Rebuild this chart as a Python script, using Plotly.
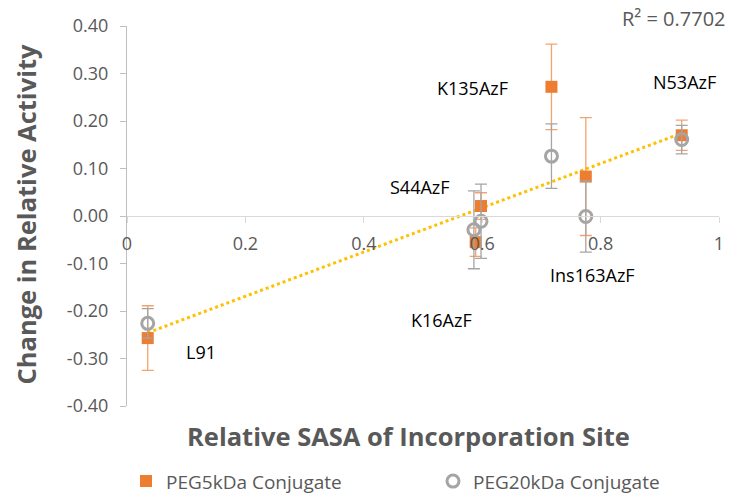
import numpy as np
import plotly.graph_objects as go

# ---- data ----
sites = ["L91", "K16AzF", "S44AzF", "K135AzF", "Ins163AzF", "N53AzF"]
sasa_5k = [0.035, 0.589, 0.598, 0.717, 0.775, 0.937]
act_5k = [-0.257, -0.055, 0.021, 0.272, 0.083, 0.170]
err_5k = [0.068, 0.030, 0.028, 0.090, 0.124, 0.032]

sasa_20k = [0.035, 0.586, 0.598, 0.717, 0.775, 0.937]
act_20k = [-0.226, -0.029, -0.011, 0.126, -0.001, 0.161]
err_20k = [0.031, 0.082, 0.078, 0.068, 0.075, 0.030]

# data-label anchor positions (x, y in data units)
label_x = [0.125, 0.532, 0.495, 0.583, 0.787, 0.941]
label_y = [-0.286, -0.219, 0.062, 0.269, -0.124, 0.282]

r2_text = "R² = 0.7702"
x_ticks = [0, 0.2, 0.4, 0.6, 0.8, 1]
y_ticks = [-0.4, -0.3, -0.2, -0.1, 0.0, 0.1, 0.2, 0.3, 0.4]

FONT = "Open Sans"
TXT = "#595959"
ORANGE = "#ED7D31"
GRAY = "#A5A5A5"

# trendline through all points
all_x = np.array(sasa_5k + sasa_20k)
all_y = np.array(act_5k + act_20k)
slope, intercept = np.polyfit(all_x, all_y, 1)
tx = np.array([all_x.min(), all_x.max()])
ty = slope * tx + intercept

fig = go.Figure()
fig.add_trace(go.Scatter(
    x=tx, y=ty, mode="lines", showlegend=False, hoverinfo="skip",
    line=dict(color="#FFC000", width=3, dash="dot")))
fig.add_trace(go.Scatter(
    x=sasa_5k, y=act_5k, mode="markers", name="PEG5kDa Conjugate",
    marker=dict(symbol="square", size=12, color=ORANGE),
    error_y=dict(type="data", array=err_5k, visible=True,
                 color="rgba(237,125,49,0.7)", thickness=1.3, width=6)))
fig.add_trace(go.Scatter(
    x=sasa_20k, y=act_20k, mode="markers", name="PEG20kDa Conjugate",
    marker=dict(symbol="circle-open", size=12, color=GRAY,
                line=dict(width=3, color=GRAY)),
    error_y=dict(type="data", array=err_20k, visible=True,
                 color=GRAY, thickness=1.3, width=6)))

annotations = []
for name, lx, ly in zip(sites, label_x, label_y):
    annotations.append(dict(x=lx, y=ly, xref="x", yref="y", text=name,
                            showarrow=False,
                            font=dict(family=FONT, size=18, color="#000000")))
annotations.append(dict(x=1.0152, y=1.021, xref="paper", yref="paper",
                        xanchor="right", yanchor="middle",
                        showarrow=False, text=r2_text,
                        font=dict(family=FONT, size=20, color=TXT)))
annotations.append(dict(x=0.475, y=-0.079, xref="paper", yref="paper",
                        xanchor="center", yanchor="middle",
                        text="<b>Relative SASA of Incorporation Site</b>",
                        showarrow=False,
                        font=dict(family=FONT, size=25.5, color=TXT)))
annotations.append(dict(x=-0.17, y=0.505, xref="paper", yref="paper",
                        xanchor="center", yanchor="middle", textangle=-90,
                        text="<b>Change in Relative Activity</b>",
                        showarrow=False,
                        font=dict(family=FONT, size=25.5, color=TXT)))

fig.update_layout(
    width=732, height=494,
    margin=dict(l=127, r=13, t=26, b=88, autoexpand=False),
    paper_bgcolor="white", plot_bgcolor="white",
    font=dict(family=FONT, color=TXT),
    showlegend=True,
    legend=dict(orientation="h", xref="paper", yref="paper",
                x=-0.0017, y=-0.198, xanchor="left", yanchor="middle",
                entrywidth=262, entrywidthmode="pixels",
                font=dict(family=FONT, size=19, color=TXT)),
    annotations=annotations,
    xaxis=dict(range=[0, 1], tickvals=x_ticks, ticktext=[f"{v:g}" for v in x_ticks],
               anchor="free", position=0.5,
               showline=True, linecolor="#D9D9D9", linewidth=1.3,
               ticks="outside", ticklen=6, tickcolor="#D9D9D9",
               ticklabelstandoff=5,
               showgrid=False, zeroline=False,
               tickfont=dict(family=FONT, size=18, color=TXT)),
    yaxis=dict(range=[-0.4, 0.4], tickvals=y_ticks,
               ticktext=[f"{v:.2f}" for v in y_ticks],
               showline=True, linecolor="#BFBFBF", linewidth=1.3,
               ticks="outside", ticklen=6, tickcolor="#BFBFBF",
               ticklabelstandoff=8,
               showgrid=False, zeroline=False,
               tickfont=dict(family=FONT, size=18, color=TXT)),
)

fig.write_html("out.html")
